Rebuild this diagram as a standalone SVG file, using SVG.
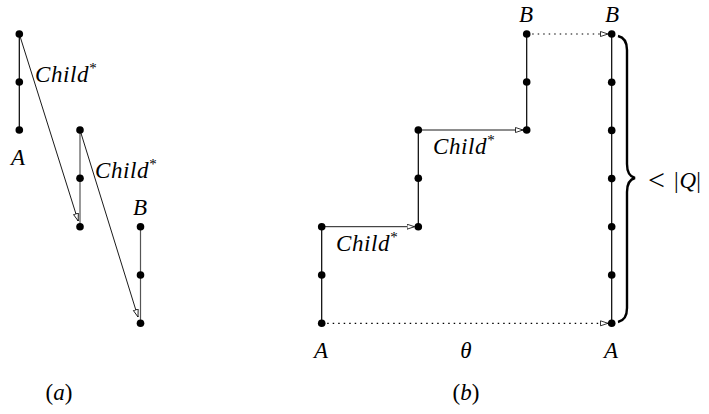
<svg xmlns="http://www.w3.org/2000/svg" width="709" height="414" viewBox="0 0 709 414">
<style>
text{font-family:'Liberation Serif',serif;font-size:23px;font-style:italic;fill:#000}
.u{font-style:normal}
.ch{font-size:23px;letter-spacing:0.6px}
.sup{font-size:15px;font-style:normal}
.dot{fill:#000}
.ln{stroke:#000;stroke-width:1.2;fill:none}
.lg{stroke:#555;stroke-width:1.2;fill:none}
.ar{stroke:#000;stroke-width:0.9;fill:none;marker-end:url(#oa)}
.dt{stroke:#000;stroke-width:1.2;fill:none;stroke-dasharray:1.5 4;marker-end:url(#oa)}
</style>
<defs>
<marker id="oa" markerUnits="userSpaceOnUse" markerWidth="10" markerHeight="8" refX="8" refY="3" orient="auto">
<path d="M0.5,0.5 L8,3 L0.5,5.5 z" fill="#fff" stroke="#000" stroke-width="0.8"/>
</marker>
</defs>
<g id="connectors">
<line class="ln" x1="19.3" y1="34" x2="19.3" y2="130"/>
<line class="lg" x1="80" y1="130" x2="80" y2="226.7"/>
<line class="lg" x1="140.5" y1="226.7" x2="140.5" y2="323"/>
<line class="ar" x1="19.3" y1="34" x2="78.2" y2="221"/>
<line class="ar" x1="80" y1="130" x2="138" y2="317"/>
<polyline class="ln" points="321.7,323.3 321.7,226.7"/>
<line class="ar" x1="321.7" y1="226.7" x2="414.5" y2="226.7"/>
<line class="ln" x1="418.3" y1="226.7" x2="418.3" y2="130"/>
<line class="ar" x1="418.3" y1="130" x2="523" y2="130"/>
<line class="ln" x1="526.7" y1="130" x2="526.7" y2="34"/>
<line class="ln" x1="611.7" y1="34" x2="611.7" y2="323.3"/>
<line class="dt" x1="526.7" y1="34" x2="608" y2="34"/>
<line class="dt" x1="321.7" y1="323.3" x2="608" y2="323.3"/>
<path d="M618,36 Q627,38 627,50 L627,164 Q627,176 635,178 Q627,180 627,192 L627,308 Q627,320 618,322" fill="none" stroke="#000" stroke-width="2.4"/>
</g>
<g id="a-nodes">
<circle class="dot" cx="19.3" cy="34" r="3.8"/>
<circle class="dot" cx="19.3" cy="82" r="3.8"/>
<circle class="dot" cx="19.3" cy="130" r="3.8"/>
<circle class="dot" cx="80" cy="130" r="3.8"/>
<circle class="dot" cx="80" cy="178.3" r="3.8"/>
<circle class="dot" cx="80" cy="226.7" r="3.8"/>
<circle class="dot" cx="140.5" cy="226.7" r="3.8"/>
<circle class="dot" cx="140.5" cy="275" r="3.8"/>
<circle class="dot" cx="140.5" cy="323.3" r="3.8"/>
</g>
<g id="b-nodes">
<circle class="dot" cx="321.7" cy="226.7" r="3.8"/>
<circle class="dot" cx="321.7" cy="275" r="3.8"/>
<circle class="dot" cx="321.7" cy="323.3" r="3.8"/>
<circle class="dot" cx="418.3" cy="130" r="3.8"/>
<circle class="dot" cx="418.3" cy="178.3" r="3.8"/>
<circle class="dot" cx="418.3" cy="226.7" r="3.8"/>
<circle class="dot" cx="526.7" cy="34" r="3.8"/>
<circle class="dot" cx="526.7" cy="82" r="3.8"/>
<circle class="dot" cx="526.7" cy="130" r="3.8"/>
<circle class="dot" cx="611.7" cy="34" r="3.8"/>
<circle class="dot" cx="611.7" cy="82.2" r="3.8"/>
<circle class="dot" cx="611.7" cy="130.4" r="3.8"/>
<circle class="dot" cx="611.7" cy="178.6" r="3.8"/>
<circle class="dot" cx="611.7" cy="226.8" r="3.8"/>
<circle class="dot" cx="611.7" cy="275" r="3.8"/>
<circle class="dot" cx="611.7" cy="323.3" r="3.8"/>
</g>
<g id="labels">
<text class="ch" x="35" y="82">Child<tspan class="sup" dy="-9">*</tspan></text>
<text class="ch" x="95" y="178">Child<tspan class="sup" dy="-9">*</tspan></text>
<text class="ch" x="336" y="251">Child<tspan class="sup" dy="-9">*</tspan></text>
<text class="ch" x="433" y="154">Child<tspan class="sup" dy="-9">*</tspan></text>
<text x="18" y="165" text-anchor="middle">A</text>
<text x="140" y="215" text-anchor="middle">B</text>
<text x="526" y="22" text-anchor="middle">B</text>
<text x="612" y="22" text-anchor="middle">B</text>
<text x="321" y="358" text-anchor="middle">A</text>
<text x="466" y="358" text-anchor="middle">θ</text>
<text x="611" y="358" text-anchor="middle">A</text>
<text x="648" y="188" font-size="24"><tspan class="u" font-size="30" dy="2">&lt;</tspan><tspan class="u" x="674" dy="-2">|</tspan><tspan dx="1">Q</tspan><tspan class="u">|</tspan></text>
<text x="59" y="400" text-anchor="middle"><tspan class="u">(</tspan>a<tspan class="u">)</tspan></text>
<text x="466" y="400" text-anchor="middle"><tspan class="u">(</tspan>b<tspan class="u">)</tspan></text>
</g>
</svg>
